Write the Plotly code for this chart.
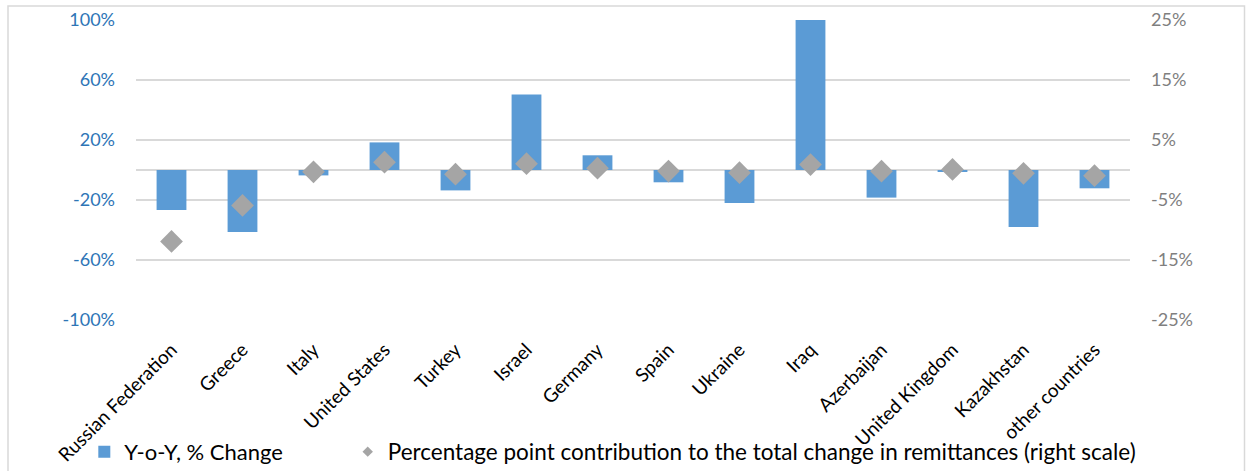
import plotly.graph_objects as go

countries = [
    "Russian Federation", "Greece", "Italy", "United States", "Turkey", "Israel",
    "Germany", "Spain", "Ukraine", "Iraq", "Azerbaijan", "United Kingdom",
    "Kazakhstan", "other countries",
]
# Year-on-year change, %
yoy_change = [-26.7, -41.3, -3.6, 18.4, -13.6, 50.4, 9.8, -8.2, -22.0, 100.0,
              -18.4, -0.8, -38.0, -12.2]
# Percentage point contribution to total change (right scale)
contribution = [-11.9, -5.9, -0.3, 1.3, -0.7, 1.05, 0.3, -0.17, -0.45, 0.9,
                -0.2, 0.1, -0.55, -0.95]

left_ticks = [-100, -60, -20, 20, 60, 100]
right_ticks = [-25, -15, -5, 5, 15, 25]

FONT = "Lato"
BLUE = "#5B9BD5"
GREY = "#A5A5A5"
GRID = "#D9D9D9"

fig = go.Figure()
fig.add_trace(go.Bar(
    x=countries, y=yoy_change, name="Y-o-Y, % Change",
    marker=dict(color=BLUE, line=dict(width=0)), yaxis="y", legend="legend",
))
fig.add_trace(go.Scatter(
    x=countries, y=contribution, mode="markers", yaxis="y2",
    marker=dict(symbol="diamond", size=17.5, color=GREY, line=dict(width=0)),
    showlegend=False, legendgroup="contrib",
))
# Legend entry for the diamond series with a smaller symbol
fig.add_trace(go.Scatter(
    x=[countries[0]], y=[None], mode="markers", yaxis="y2",
    name="Percentage point contribution to the total change in remittances (right scale)",
    marker=dict(symbol="diamond", size=8, color=GREY, line=dict(width=0)),
    legendgroup="contrib", legend="legend2",
))

legend_common = dict(
    orientation="h", xanchor="left", y=-0.44, yanchor="middle",
    bgcolor="rgba(0,0,0,0)",
)

fig.update_layout(
    width=1246, height=471,
    margin=dict(l=136, r=116, t=20, b=151, autoexpand=False),
    paper_bgcolor="white", plot_bgcolor="white",
    bargap=0.58,
    font=dict(family=FONT, color="#000000"),
    xaxis=dict(
        range=[-0.5, len(countries) - 0.5], automargin=False,
        tickangle=-45, tickfont=dict(size=19, color="#000000"),
        showgrid=False, showline=False, ticks="", zeroline=False,
        ticklabelstandoff=14,
    ),
    yaxis=dict(
        range=[-100, 100], tickvals=left_ticks, automargin=False,
        ticktext=[f"{v}%" for v in left_ticks],
        tickfont=dict(size=18, color="#2E75B6"),
        showgrid=True, gridcolor=GRID, gridwidth=1.5,
        zeroline=True, zerolinecolor=GRID, zerolinewidth=1.5,
        showline=False, ticks="", ticklabelstandoff=20,
    ),
    yaxis2=dict(
        range=[-25, 25], tickvals=right_ticks, automargin=False,
        ticktext=[f"{v}%" for v in right_ticks],
        tickfont=dict(size=18, color="#7F7F7F"),
        overlaying="y", side="right", showgrid=False, zeroline=False,
        showline=False, ticks="", ticklabelstandoff=20,
    ),
    legend=dict(x=-0.052, font=dict(size=22, color="#000000"), **legend_common),
    legend2=dict(x=0.213, font=dict(size=22.5, color="#000000"), **legend_common),
    shapes=[dict(
        type="rect", xref="paper", yref="paper",
        x0=(8 - 136) / 994, x1=(1244.5 - 136) / 994,
        y0=-0.7, y1=1 + 14 / 300,
        line=dict(color=GRID, width=1.5), fillcolor="rgba(0,0,0,0)", layer="below",
    )],
)

fig.write_html("out.html")
